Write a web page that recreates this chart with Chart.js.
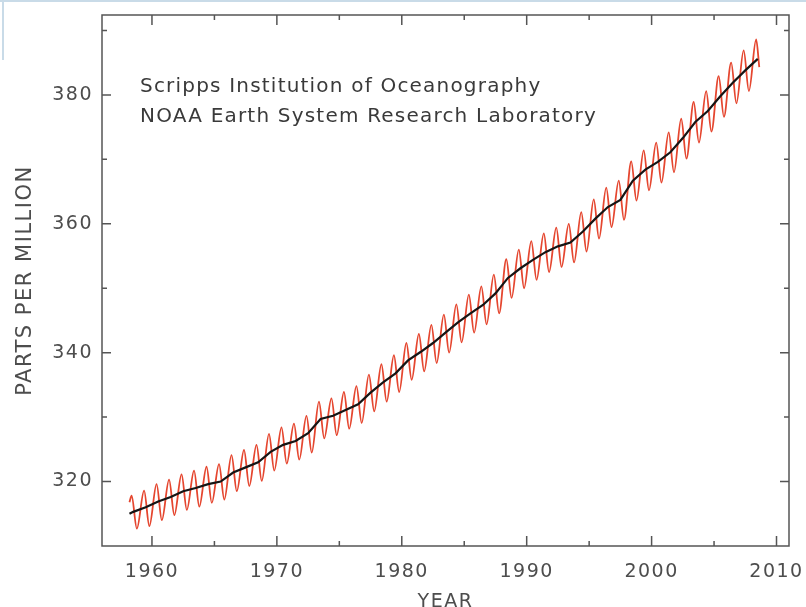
<!DOCTYPE html>
<html>
<head>
<meta charset="utf-8">
<script src="https://cdn.jsdelivr.net/npm/chart.js@4.4.1/dist/chart.umd.min.js"></script>
<style>
html, body { margin: 0; padding: 0; background: #fff; overflow: hidden; }
#wrap { position: relative; width: 806px; height: 625px; }
#edgeTop { position: absolute; left: 0; top: 0; width: 806px; height: 2px; background: #c9dbe8; }
#edgeLeft { position: absolute; left: 2px; top: 0; width: 2px; height: 60px; background: #c9dbe8; }
</style>
</head>
<body>
<div id="wrap"><canvas id="chart0"></canvas><div id="edgeTop"></div><div id="edgeLeft"></div></div>
<script>
// Mauna Loa CO2 (ppm)
var years = [1958, 1959, 1960, 1961, 1962, 1963, 1964, 1965, 1966, 1967,
	1968, 1969, 1970, 1971, 1972, 1973, 1974, 1975, 1976, 1977,
	1978, 1979, 1980, 1981, 1982, 1983, 1984, 1985, 1986, 1987,
	1988, 1989, 1990, 1991, 1992, 1993, 1994, 1995, 1996, 1997,
	1998, 1999, 2000, 2001, 2002, 2003, 2004, 2005, 2006, 2007, 2008];

// seasonal maximum (around May) of the red curve
var peakPpm = [317.8, 318.6, 319.6, 320.3, 321.1, 321.7, 322.3, 322.7, 324.1, 324.9,
	325.7, 327.4, 328.4, 329.0, 330.2, 332.4, 332.9, 333.9, 334.8, 336.6,
	338.2, 339.6, 341.5, 342.9, 344.3, 345.9, 347.5, 349.0, 350.3, 352.1,
	354.5, 356.0, 357.3, 358.5, 359.4, 360.0, 361.8, 363.8, 365.6, 366.7,
	369.7, 371.4, 372.6, 374.2, 376.3, 378.9, 380.6, 382.9, 385.0, 386.9, 388.6];

// seasonal minimum (around October), none yet for 2008
var troughPpm = [312.7, 313.1, 314.0, 314.8, 315.6, 316.1, 316.7, 317.2, 318.5, 319.3,
	320.1, 321.7, 322.8, 323.4, 324.5, 326.7, 327.2, 328.2, 329.1, 330.9,
	332.4, 333.9, 335.8, 337.1, 338.4, 340.0, 341.6, 343.1, 344.4, 346.1,
	348.5, 350.0, 351.3, 352.5, 353.3, 354.0, 355.7, 357.7, 359.5, 360.6,
	363.6, 365.2, 366.4, 368.0, 370.1, 372.6, 374.3, 376.6, 378.7, 380.6];

// black curve, seasonally adjusted, mid-year
var trendPpm = [315.3, 316.0, 316.9, 317.6, 318.5, 319.0, 319.6, 320.0, 321.4, 322.2,
	323.0, 324.6, 325.7, 326.3, 327.5, 329.7, 330.2, 331.1, 332.0, 333.8,
	335.4, 336.8, 338.8, 340.1, 341.5, 343.1, 344.7, 346.1, 347.4, 349.2,
	351.6, 353.1, 354.4, 355.6, 356.5, 357.1, 358.8, 360.8, 362.6, 363.7,
	366.7, 368.4, 369.6, 371.1, 373.3, 375.8, 377.5, 379.8, 381.9, 383.8, 385.6];

var redStart = [1958.2, 316.8];
var redEnd = [2008.62, 384.3];
var blackStart = [1958.2, 315.0];

var xRange = [1956, 2011];
var yRange = [310, 392.4];
var xTickValues = [1960, 1965, 1970, 1975, 1980, 1985, 1990, 1995, 2000, 2005, 2010];
var yTickValues = [320, 330, 340, 350, 360, 370, 380, 390];

function seasonalPoints() {
	var pts = [{x: redStart[0], y: redStart[1]}];
	for (var i = 0; i < years.length; i++) {
		pts.push({x: years[i] + 0.37, y: peakPpm[i]});
		if (troughPpm[i] !== undefined) pts.push({x: years[i] + 0.79, y: troughPpm[i]});
	}
	pts.push({x: redEnd[0], y: redEnd[1]});
	return pts;
}

function trendPoints() {
	var pts = [{x: blackStart[0], y: blackStart[1]}];
	for (var i = 0; i < years.length; i++) pts.push({x: years[i] + 0.5, y: trendPpm[i]});
	return pts;
}

var inkColor = '#4d4d4d';

var frameTicks = {
	id: 'frameTicks',
	beforeDraw(chart) {
		chart.ctx.letterSpacing = '1.5px';
	},
	afterDatasetsDraw(chart) {
		var ctx = chart.ctx, a = chart.chartArea, x = chart.scales.x, y = chart.scales.y;
		ctx.save();
		ctx.strokeStyle = '#555';
		ctx.lineWidth = 1.5;
		ctx.strokeRect(a.left, a.top, a.right - a.left, a.bottom - a.top);
		ctx.beginPath();
		x.ticks.forEach(function(t) {
			var len = t.value % 10 === 0 ? 10 : 5;
			var px = x.getPixelForValue(t.value);
			ctx.moveTo(px, a.bottom); ctx.lineTo(px, a.bottom - len);
			ctx.moveTo(px, a.top); ctx.lineTo(px, a.top + len);
		});
		y.ticks.forEach(function(t) {
			var len = t.value % 20 === 0 ? 9 : 5;
			var py = y.getPixelForValue(t.value);
			ctx.moveTo(a.left, py); ctx.lineTo(a.left + len, py);
			ctx.moveTo(a.right, py); ctx.lineTo(a.right - len, py);
		});
		ctx.stroke();

		ctx.fillStyle = '#3a3a3a';
		ctx.font = '20px "DejaVu Sans"';
		ctx.letterSpacing = '1.2px';
		ctx.textAlign = 'left';
		ctx.textBaseline = 'alphabetic';
		ctx.fillText('Scripps Institution of Oceanography', 140, 92);
		ctx.fillText('NOAA Earth System Research Laboratory', 140, 122);
		ctx.restore();
	}
};

function noEdgePadding(s) {
	s.paddingTop = 0;
	s.paddingBottom = 0;
	s.paddingLeft = 0;
	s.paddingRight = 0;
}

function plotChart() {
	new Chart('chart0', {
		type: 'line',
		data: {
			datasets: [
				{
					data: trendPoints(),
					borderColor: '#151515',
					borderWidth: 2.2,
					pointRadius: 0,
					tension: 0,
					fill: false
				},
				{
					data: seasonalPoints(),
					borderColor: '#e5462f',
					borderWidth: 1.8,
					pointRadius: 0,
					cubicInterpolationMode: 'monotone',
					fill: false
				}
			]
		},
		options: {
			responsive: true,
			maintainAspectRatio: false,
			animation: false,
			layout: {padding: {top: 15, right: 17, left: 0, bottom: 0}},
			plugins: {legend: {display: false}, tooltip: {enabled: false}},
			scales: {
				x: {
					type: 'linear',
					min: xRange[0],
					max: xRange[1],
					grid: {display: false, drawTicks: false},
					border: {display: false},
					afterBuildTicks: function(s) { s.ticks = xTickValues.map(function(v) { return {value: v}; }); },
					afterFit: function(s) { s.height = 79; noEdgePadding(s); },
					ticks: {
						autoSkip: false,
						maxRotation: 0,
						padding: 15,
						color: inkColor,
						font: {family: 'DejaVu Sans', size: 19},
						callback: function(v) { return v % 10 === 0 ? String(v) : ''; }
					},
					title: {
						display: true,
						text: 'YEAR',
						color: inkColor,
						font: {family: 'DejaVu Sans', size: 19},
						padding: {top: 0, bottom: 12}
					}
				},
				y: {
					min: yRange[0],
					max: yRange[1],
					grid: {display: false, drawTicks: false},
					border: {display: false},
					afterBuildTicks: function(s) { s.ticks = yTickValues.map(function(v) { return {value: v}; }); },
					afterFit: function(s) { s.width = 102; noEdgePadding(s); },
					ticks: {
						autoSkip: false,
						padding: 9,
						color: inkColor,
						font: {family: 'DejaVu Sans', size: 19},
						callback: function(v) { return v % 20 === 0 ? String(v) : ''; }
					},
					title: {
						display: true,
						text: 'PARTS PER MILLION',
						color: inkColor,
						font: {family: 'DejaVu Sans', size: 21},
						padding: {top: 13, bottom: 0}
					}
				}
			}
		},
		plugins: [frameTicks]
	});
}

plotChart();
</script>
</body>
</html>
